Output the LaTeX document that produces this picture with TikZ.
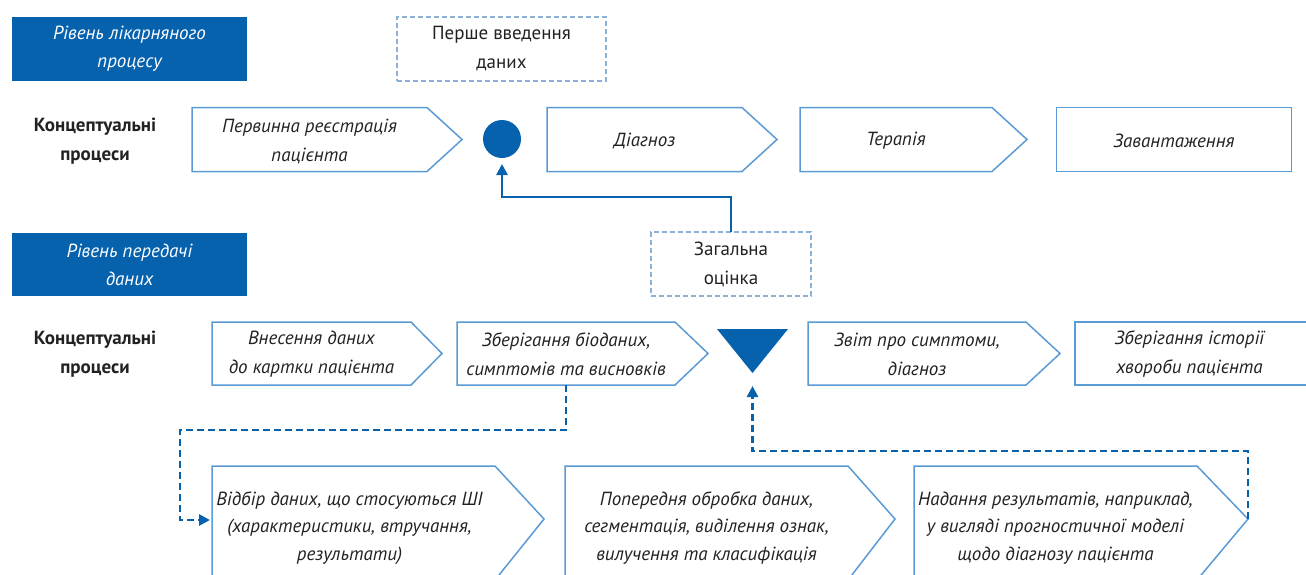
\documentclass[tikz,border=0pt]{standalone}
\usepackage{fontspec}
\setmainfont{PT Sans}
\usetikzlibrary{arrows.meta,calc}
\definecolor{navy}{HTML}{0762AE}
\definecolor{edgeblue}{HTML}{5B9BD5}
\definecolor{dashblue}{HTML}{8DB0D6}
\definecolor{ink}{HTML}{222222}
\newcommand\txtproc{\fontsize{19}{29}\selectfont\itshape}
\newcommand\txttri{\fontsize{19}{27.5}\selectfont\itshape}
\newcommand\txtlabel{\fontsize{19}{29}\selectfont\bfseries}
\newcommand\chevron[2]{\draw[outline] (#1.north west) -- (#1.north east) -- ([xshift=#2]#1.east) -- (#1.south east) -- (#1.south west) -- cycle;}
% tall chevrons whose lower part runs past the page edge
\newcommand\tallchevron[2]{\draw[outline] (#1.south west) -- (#1.north west) -- (#1.north east) -- ([xshift=#2,yshift=9]#1.east) -- ([yshift=10]#1.south east) -- (#1.south east);}
\begin{document}
\begin{tikzpicture}[x=1pt,y=-1pt,
  band/.style={fill=navy, draw=none, text=white, font=\fontsize{19}{28}\selectfont\itshape, minimum width=235, minimum height=64, inner sep=0, outer sep=0, align=center},
  note/.style={draw=dashblue, line width=1.3, dash pattern=on 5pt off 3pt, text=ink, font=\txtlabel\mdseries, minimum height=64, inner sep=0, outer sep=0, align=center},
  frame/.style={inner sep=0, outer sep=0},
  proc/.style={text=ink, font=\txtproc, inner sep=0, outer sep=0, align=center},
  proclong/.style={proc, font=\txttri},
  outline/.style={draw=edgeblue, line width=1.5, line join=miter},
  rowlabel/.style={text=ink, font=\txtlabel, align=center, inner sep=0},
  link/.style={draw=navy, line width=2.6, -{Triangle[length=11pt,width=11pt]}},
  dlink/.style={link, dash pattern=on 7pt off 4pt}]
\useasboundingbox (0,0) rectangle (1306,574);
\clip (0,0) rectangle (1306,574);
\fill[white] (0,0) rectangle (1306,574);

% level headers
\node[band] (lvl1) at (129.5,49) {Рівень лікарняного\\процесу};
\node[band, minimum height=63] (lvl2) at (129.5,264.5) {Рівень передачі\\даних};

% dashed notes
\node[note, minimum width=209] (first) at (501.5,49) {Перше введення\\даних};
\node[note, minimum width=160] (overall) at (731,264) {Загальна\\оцінка};

% row labels
\node[rowlabel] (lab1) at (95,141) {Концептуальні\\процеси};
\node[rowlabel] (lab2) at (95,354) {Концептуальні\\процеси};

% hospital process row
\node[frame, minimum width=235, minimum height=64] (p1) at (309.5,139.5) {};
\chevron{p1}{35}
\node[proc] (p1t) at ([yshift=-2]p1.center) {Первинна реєстрація\\пацієнта};
\node[circle, fill=navy, minimum size=38, inner sep=0, outer sep=0] (dot) at (502,139) {};
\node[frame, minimum width=195, minimum height=64] (p2) at (644.5,139.5) {};
\chevron{p2}{35}
\node[proc] (p2t) at ([yshift=-1]p2.center) {Діагноз};
\node[frame, minimum width=192, minimum height=64] (p3) at (896,139.5) {};
\chevron{p3}{35}
\node[proc] (p3t) at ([yshift=-1]p3.center) {Терапія};
\node[frame, minimum width=235, minimum height=64] (p4) at (1174,139.5) {};
\draw[outline] (p4.north west) rectangle (p4.south east);
\node[proc] (p4t) at ([yshift=-1]p4.center) {Завантаження};

% data transfer row
\node[frame, minimum width=199, minimum height=63] (q1) at (311.5,353.5) {};
\chevron{q1}{31}
\node[proc] (q1t) at ([yshift=-1]q1.center) {Внесення даних\\до картки пацієнта};
\node[frame, minimum width=218, minimum height=63] (q2) at (566,353.5) {};
\chevron{q2}{33}
\node[proc] (q2t) at ([yshift=-1]q2.center) {Зберігання біоданих,\\симптомів та висновків};
\coordinate (tapex) at (752.5,373);
\fill[navy] (717,329) -- (788,329) -- (tapex) -- cycle;
\node[frame, minimum width=218, minimum height=63] (q3) at (917,353.5) {};
\chevron{q3}{34}
\node[proc] (q3t) at ([yshift=-1]q3.center) {Звіт про симптоми,\\діагноз};
\node[frame, minimum width=235, minimum height=63] (q4) at (1192.5,353.5) {};
\draw[outline] (1320,322) -- (q4.north west) -- (q4.south west) -- (1320,385);
\node[proc] (q4t) at ([yshift=-1,xshift=-3]q4.center) {Зберігання історії\\хвороби пацієнта};

% AI processing row
\node[frame, minimum width=283, minimum height=124] (r1) at (353.5,528) {};
\tallchevron{r1}{49}
\node[proclong] (r1t) at ([xshift=-4]r1.center) {Відбір даних, що стосуються ШІ\\(характеристики, втручання,\\результати)};
\node[frame, minimum width=283, minimum height=124] (r2) at (706.5,528) {};
\tallchevron{r2}{47}
\node[proclong] (r2t) at (r2.center) {Попередня обробка даних,\\сегментація, виділення ознак,\\вилучення та класифікація};
\node[frame, minimum width=283, minimum height=124] (r3) at (1055.5,528) {};
\tallchevron{r3}{51}
\node[proclong] (r3t) at (r3.center) {Надання результатів, наприклад,\\у вигляді прогностичної моделі\\щодо діагнозу пацієнта};
\coordinate (r1in) at ([yshift=8]r1.west);
\coordinate (r3tip) at ([xshift=51,yshift=9]r3.east);

% connectors
\draw[link, shorten >=6pt] (overall.north) -- ++(0,-35) -| (dot.south);
\coordinate (j1) at (180,430);
\draw[dlink, shorten >=2pt] (q2.south) |- (j1) |- (r1in);
\coordinate (j2) at (752.5,451);
\draw[dlink, shorten >=13pt] (r3tip) |- (j2) -- (tapex);
\end{tikzpicture}
\end{document}
